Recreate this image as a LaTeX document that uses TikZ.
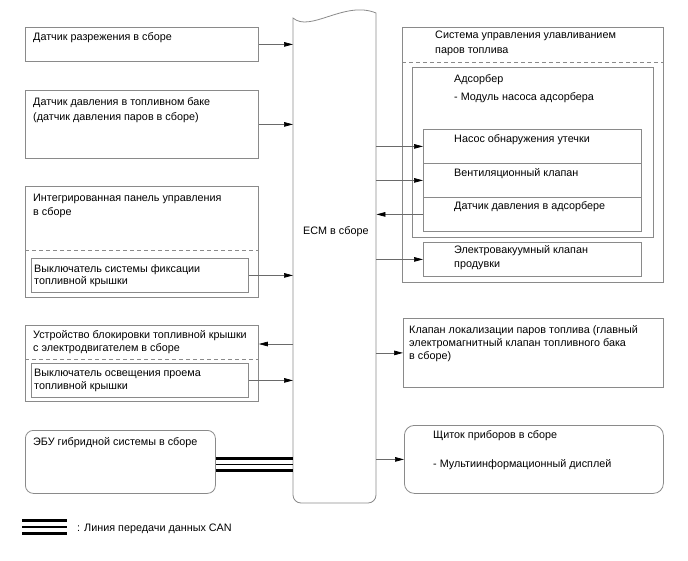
\documentclass[tikz,border=0pt]{standalone}
\usepackage{fontspec}
\setmainfont{Liberation Sans}
\usetikzlibrary{arrows.meta,calc}
\definecolor{bordergray}{HTML}{8A8A8A}
\definecolor{linegray}{HTML}{6A6A6A}
\begin{document}
\begin{tikzpicture}[x=1pt,y=-1pt,
  box/.style={draw=bordergray,line width=0.8pt,inner sep=0pt,anchor=north west},
  rbox/.style={box,rounded corners=8pt},
  txt/.style={anchor=base west,inner sep=0pt,align=left,font=\fontsize{10.8}{14}\selectfont},
  dsh/.style={draw=bordergray,line width=0.8pt,dash pattern=on 4pt off 3pt},
  arr/.style={draw=linegray,line width=0.7pt,-{Triangle[length=9pt,width=4.6pt,color=black]}},
  canthick/.style={line width=3.6pt,black},
  canthin/.style={line width=1.2pt,black}]
\useasboundingbox (0,0) rectangle (688,560);

% ECM
\node[inner sep=0pt,anchor=north west,minimum width=83pt,minimum height=485pt] (ecm) at (293,18) {};
\draw[bordergray,line width=0.8pt] (293,18) .. controls (310,33) and (345,0) .. (376,13)
  -- (376,495) arc[start angle=0,end angle=90,radius=8] -- (301,503)
  arc[start angle=90,end angle=180,radius=8] -- cycle;
\node[txt] (ecmt) at (303,234) {ECM в сборе};

% Left boxes
\node[box,minimum width=233pt,minimum height=34pt] (b1) at (25,27) {};
\node[txt] (b1t) at (33,40) {Датчик разрежения в сборе};

\node[box,minimum width=233pt,minimum height=68pt] (b2) at (25,90) {};
\node[txt,font=\fontsize{10.8}{15}\selectfont] (b2t) at (33,120) {Датчик давления в топливном баке\\(датчик давления паров в сборе)};

\node[box,minimum width=233pt,minimum height=111pt] (b3) at (25,186) {};
\node[txt] (b3t) at (33,215) {Интегрированная панель управления\\в сборе};
\draw[dsh] (b3.west |- 0,250) -- (b3.east |- 0,250);
\node[box,minimum width=217pt,minimum height=34pt] (b3i) at (31,258) {};
\node[txt,font=\fontsize{10.8}{12.5}\selectfont] (b3it) at (34,284.5) {Выключатель системы фиксации\\топливной крышки};

\node[box,minimum width=233pt,minimum height=76pt] (b4) at (25,325) {};
\coordinate (b4up) at ($(b4.north east)+(0,19)$);
\node[txt,font=\fontsize{10.8}{13}\selectfont] (b4t) at (33,351) {Устройство блокировки топливной крышки\\с электродвигателем в сборе};
\draw[dsh] (b4.west |- 0,359) -- (b4.east |- 0,359);
\node[box,minimum width=217pt,minimum height=34pt] (b4i) at (31,363) {};
\node[txt,font=\fontsize{10.8}{13}\selectfont] (b4it) at (34,389) {Выключатель освещения проема\\топливной крышки};

\node[rbox,minimum width=190pt,minimum height=63pt] (ebu) at (25,430) {};
\node[txt] (ebut) at (33,445) {ЭБУ гибридной системы в сборе};

% CAN line
\coordinate (canL) at ($(ebu.east)+(0,2.5)$);
\draw[canthick] ($(canL)+(0,-6)$) -- ($(canL -| ecm.west)+(0,-6)$);
\draw[canthin] (canL) -- (canL -| ecm.west);
\draw[canthick] ($(canL)+(0,6)$) -- ($(canL -| ecm.west)+(0,6)$);

% Legend
\coordinate (lg1) at (22,520.5);
\coordinate (lg2) at (67,520.5);
\draw[canthick] (lg1) -- (lg2);
\draw[canthin] ($(lg1)+(0,6.5)$) -- ($(lg2)+(0,6.5)$);
\draw[canthick] ($(lg1)+(0,13)$) -- ($(lg2)+(0,13)$);
\node[txt] (lgt) at (77,531) {: Линия передачи данных CAN};

% Right boxes
\node[box,minimum width=261pt,minimum height=255pt] (evap) at (402,27) {};
\node[txt,font=\fontsize{10.8}{15}\selectfont] (evapt) at (435,53) {Система управления улавливанием\\паров топлива};
\draw[dsh] (evap.west |- 0,62) -- (evap.east |- 0,62);

\node[box,minimum width=241pt,minimum height=170pt] (ads) at (412,67) {};
\node[txt] (adst) at (454,82) {Адсорбер};
\node[txt] (adsm) at (454,100) {- Модуль насоса адсорбера};

\node[box,minimum width=218pt,minimum height=34pt] (r1) at (423,129) {};
\node[box,minimum width=218pt,minimum height=34pt] (r2) at (423,163) {};
\node[box,minimum width=218pt,minimum height=34pt] (r3) at (423,197) {};
\node[txt] (r1t) at (454,142) {Насос обнаружения утечки};
\node[txt] (r2t) at (454,176) {Вентиляционный клапан};
\node[txt] (r3t) at (454,209) {Датчик давления в адсорбере};

\node[box,minimum width=218pt,minimum height=34pt] (evv) at (423,242) {};
\node[txt] (evvt) at (454,267) {Электровакуумный клапан\\продувки};

\node[box,minimum width=260pt,minimum height=69pt] (vcv) at (403,318) {};
\node[txt,font=\fontsize{10.8}{13}\selectfont] (vcvt) at (409,359) {Клапан локализации паров топлива (главный\\электромагнитный клапан топливного бака\\в сборе)};

\node[box,rounded corners=10pt,minimum width=259pt,minimum height=68pt] (mid) at (404,425) {};
\node[txt] (midt) at (433,438) {Щиток приборов в сборе};
\node[txt] (midm) at (433,467) {- Мультиинформационный дисплей};

% Connectors
\draw[arr] (b1.east) -- (b1.east -| ecm.west);
\draw[arr] (b2.east) -- (b2.east -| ecm.west);
\draw[arr] (b3i.east) -- (b3i.east -| ecm.west);
\draw[arr] (b4up -| ecm.west) -- (b4up);
\draw[arr] (b4i.east) -- (b4i.east -| ecm.west);
\draw[arr] (r1.west -| ecm.east) -- (r1.west);
\draw[arr] (r2.west -| ecm.east) -- (r2.west);
\draw[arr] (r3.west) -- (r3.west -| ecm.east);
\draw[arr] (evv.west -| ecm.east) -- (evv.west);
\draw[arr] (vcv.west -| ecm.east) -- (vcv.west);
\draw[arr] (mid.west -| ecm.east) -- (mid.west);
\end{tikzpicture}
\end{document}
